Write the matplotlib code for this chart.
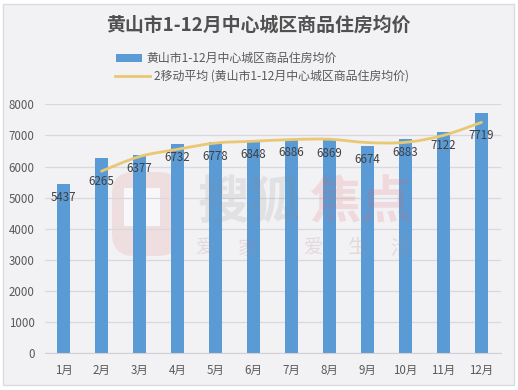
import matplotlib.pyplot as plt
from matplotlib.patches import Rectangle, PathPatch, FancyBboxPatch
from matplotlib.path import Path

plt.rcParams['font.family'] = ['Noto Sans CJK SC', 'DejaVu Sans']

months = ['1月', '2月', '3月', '4月', '5月', '6月', '7月', '8月', '9月', '10月', '11月', '12月']
prices = [5437, 6265, 6377, 6732, 6778, 6848, 6886, 6869, 6674, 6883, 7122, 7719]
avg_months = [1, 2, 3, 4, 5, 6, 7, 8, 9, 10, 11]
avg_prices = [5851, 6321, 6554, 6755, 6813, 6867, 6877, 6771, 6778, 7002, 7420]
yticks = [0, 1000, 2000, 3000, 4000, 5000, 6000, 7000, 8000]

title = '黄山市1-12月中心城区商品住房均价'
legend_bar = '黄山市1-12月中心城区商品住房均价'
legend_line = '2移动平均 (黄山市1-12月中心城区商品住房均价)'

W, H = 518, 390
BAR = '#5b9bd5'
LINE = '#e8c873'
TEXT = '#595959'

fig = plt.figure(figsize=(W / 100, H / 100), dpi=100, facecolor='white')

# card behind everything, pixel coords
bg = fig.add_axes([0, 0, 1, 1])
bg.set_xlim(0, W)
bg.set_ylim(H, 0)
bg.axis('off')
bg.add_patch(Rectangle((3, 4), 511, 381, fc='#f2f1f4', ec='#dcdbe0', lw=1))

# watermark logo sits under the bars
bg.add_patch(FancyBboxPatch((112, 172), 68, 84, boxstyle='round,pad=0,rounding_size=22',
                            fc='#e8a8a8', ec='none', alpha=0.25))
bg.add_patch(Rectangle((124, 188), 36, 38, fc='#f7f6f8', ec='none'))

ax = fig.add_axes([44.5 / W, 1 - 353.3 / H, 456 / W, 249 / H])
ax.patch.set_alpha(0)
ax.set_xlim(-0.5, 11.5)
ax.set_ylim(0, 8000)
ax.set_yticks(yticks)
ax.set_xticks(range(12))
ax.set_xticklabels(months)
ax.tick_params(length=0, labelsize=8.3, labelcolor=TEXT, pad=8)
ax.tick_params(axis='y', pad=7)
ax.grid(axis='y', color='#d9d8dd', lw=0.9)
ax.set_axisbelow(True)
for s in ['top', 'right', 'left']:
    ax.spines[s].set_visible(False)
ax.spines['bottom'].set_color('#d0d0d5')

ax.bar(range(12), prices, width=0.34, color=BAR, zorder=2)

# smooth curve through the moving average points
pts = list(zip(avg_months, avg_prices))
verts = [pts[0]]
codes = [Path.MOVETO]
for i in range(len(pts) - 1):
    p0 = pts[max(i - 1, 0)]
    p1 = pts[i]
    p2 = pts[i + 1]
    p3 = pts[min(i + 2, len(pts) - 1)]
    verts.append((p1[0] + (p2[0] - p0[0]) / 6, p1[1] + (p2[1] - p0[1]) / 6))
    verts.append((p2[0] - (p3[0] - p1[0]) / 6, p2[1] - (p3[1] - p1[1]) / 6))
    verts.append(p2)
    codes += [Path.CURVE4, Path.CURVE4, Path.CURVE4]
ax.add_patch(PathPatch(Path(verts, codes), fc='none', ec=LINE, lw=2, capstyle='round', zorder=3))

# 2月 and 12月 labels sit lower than the rest
for i, v in enumerate(prices):
    dy = -16.5 if i in (1, 11) else -10
    ax.annotate(str(v), (i, v), xytext=(0, dy), textcoords='offset points',
                ha='center', va='center', fontsize=8.3, color='#404040', zorder=6)

# title and hand placed legend
bg.text(258, 25, title, ha='center', va='center', fontsize=13.6, fontweight='bold', color='#505050')
bg.add_patch(Rectangle((116, 54), 26, 8, fc=BAR, ec='none'))
bg.text(146, 58, legend_bar, ha='left', va='center', fontsize=8.6, color=TEXT)
bg.plot([115, 150], [76, 76], color=LINE, lw=2)
bg.text(154, 76.5, legend_line, ha='left', va='center', fontsize=8.6, color=TEXT)

# watermark text on top of the bars
top = fig.add_axes([0, 0, 1, 1])
top.set_xlim(0, W)
top.set_ylim(H, 0)
top.axis('off')
top.patch.set_alpha(0)
top.text(249, 203, '搜狐', ha='center', va='center', fontsize=37, fontweight='bold', color='#8c8c8c', alpha=0.16)
top.text(361, 203, '焦点', ha='center', va='center', fontsize=37, fontweight='bold', color='#e06060', alpha=0.16)
for cx, ch in zip([205, 248, 313, 358, 400], '爱家爱生活'):
    top.text(cx, 248, ch, ha='center', va='center', fontsize=14, color='#b08888', alpha=0.22)

fig.savefig('out.png', dpi=100, facecolor='white')
